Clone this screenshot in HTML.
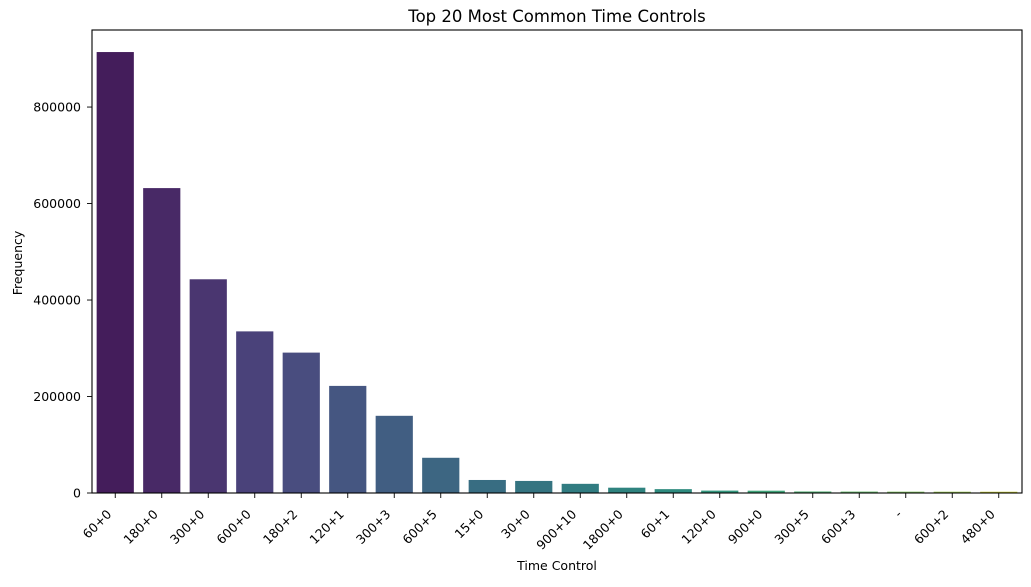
<!DOCTYPE html>
<html><head><meta charset="utf-8"><style>
html,body{margin:0;padding:0;background:#fff;}
svg text{font-family:"DejaVu Sans","Liberation Sans",sans-serif;fill:#000;}
</style></head><body>
<svg id="chart" width="1031" height="582" xmlns="http://www.w3.org/2000/svg">
<text x="557" y="22" font-size="16.5" text-anchor="middle">Top 20 Most Common Time Controls</text>
<text x="557" y="570" font-size="12.5" text-anchor="middle">Time Control</text>
<text x="0" y="0" font-size="12.5" text-anchor="middle" transform="translate(22,263) rotate(-90)">Frequency</text>
<g id="bars"></g>
<g id="axes"></g>
</svg>
<script>
const categories = ["60+0","180+0","300+0","600+0","180+2","120+1","300+3","600+5","15+0","30+0","900+10","1800+0","60+1","120+0","900+0","300+5","600+3","-","600+2","480+0"];
const values = [914000,632000,443000,335000,291000,222000,160000,73000,27000,25000,19000,11000,8000,5000,4800,3200,3000,2800,2700,2600];
const yTicks = [0,200000,400000,600000,800000];
const yTickLabels = ["0","200000","400000","600000","800000"];

const viridis = ["#471365","#481f70","#472c7a","#443983","#404588","#3b528b","#365d8d","#31688e","#2c728e","#287d8e","#24878e","#21918c","#1f9a8a","#22a785","#2fb47c","#44bf70","#5ec962","#7ad151","#9bd93c","#d8e219"];
function desat(hex,f){
  let r=parseInt(hex.slice(1,3),16)/255,g=parseInt(hex.slice(3,5),16)/255,b=parseInt(hex.slice(5,7),16)/255;
  const mx=Math.max(r,g,b),mn=Math.min(r,g,b),l=(mx+mn)/2;let h=0,s=0;
  if(mx!==mn){const d=mx-mn;s=l>0.5?d/(2-mx-mn):d/(mx+mn);
    if(mx===r)h=((g-b)/d+(g<b?6:0));else if(mx===g)h=(b-r)/d+2;else h=(r-g)/d+4;h/=6;}
  s*=f;
  function hue(p,q,t){if(t<0)t+=1;if(t>1)t-=1;if(t<1/6)return p+(q-p)*6*t;if(t<1/2)return q;if(t<2/3)return p+(q-p)*(2/3-t)*6;return p;}
  const q=l<0.5?l*(1+s):l+s-l*s,p=2*l-q;
  return "rgb("+[hue(p,q,h+1/3),hue(p,q,h),hue(p,q,h-1/3)].map(v=>Math.round(v*255)).join(",")+")";
}
const L=92,R=1022,T=30,B=493;
const yMax=Math.max(...values)*1.05;
const ns="http://www.w3.org/2000/svg";
const step=(R-L)/categories.length;
function x(i){return L+step*(i+0.5);}
function y(v){return B-(v/yMax)*(B-T);}
const bars=document.getElementById('bars'),axes=document.getElementById('axes');
function mk(tag,attrs,parent){const e=document.createElementNS(ns,tag);for(const k in attrs)e.setAttribute(k,attrs[k]);parent.appendChild(e);return e;}
values.forEach((v,i)=>{
  const bw=step*0.8;
  const r=mk('rect',{x:x(i)-bw/2,y:y(v),width:bw,height:B-y(v),fill:desat(viridis[i],0.75)},bars);
  
  
  const t=mk('line',{x1:x(i),x2:x(i),y1:B,y2:B+5,stroke:'#000','stroke-width':0.9},axes);
  
  
  const lb=mk('text',{'font-size':12.5,'text-anchor':'end',transform:'translate('+(x(i)-3)+','+(B+22)+') rotate(-45)'},axes);
  lb.textContent=categories[i];
  
  
});
yTicks.forEach((v,i)=>{
  const t=mk('line',{x1:L-5,x2:L,y1:y(v),y2:y(v),stroke:'#000','stroke-width':0.9},axes);
  
  
  const lb=mk('text',{x:L-11,y:y(v)+4.5,'font-size':12.5,'text-anchor':'end'},axes);
  lb.textContent=yTickLabels[i];
  
  
});
const fr=mk('rect',{x:L,y:T,width:R-L,height:B-T,fill:'none',stroke:'#000','stroke-width':1.1},axes);


</script>
</body></html>
